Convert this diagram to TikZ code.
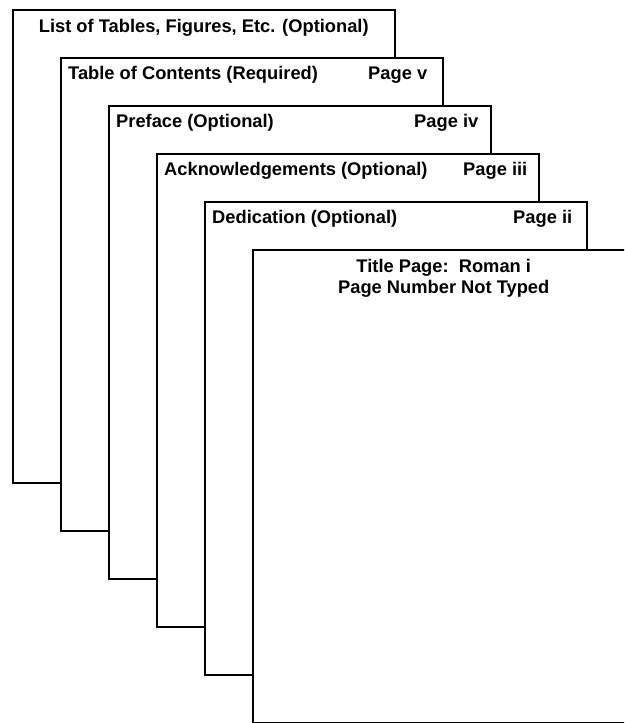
\documentclass[tikz,border=0pt]{standalone}
\usepackage{fontspec}
\setmainfont{Liberation Sans}
\usepackage{tikz}
\usetikzlibrary{positioning}

\begin{document}
\begin{tikzpicture}[x=1pt,y=1pt,node distance=48pt and 48pt,
  pagebox/.style={draw,fill=white,line width=1.5pt,minimum width=382pt,minimum height=473pt,inner sep=0pt,anchor=north west},
  head/.style={font=\bfseries\fontsize{18.3}{21}\selectfont,inner sep=0pt,anchor=base west}]
  \useasboundingbox (0,0) rectangle (624,-723);
  \clip (0,0) rectangle (624,-723);

  \node [pagebox] (lot) at (12,-9) {};
  \node [pagebox, below right=of lot.north west] (toc) {};
  \node [pagebox, below right=of toc.north west] (pref) {};
  \node [pagebox, below right=of pref.north west] (ack) {};
  \node [pagebox, below right=of ack.north west] (ded) {};
  \node [pagebox, below right=of ded.north west] (title) {};

  %headings
  \node [head, anchor=base] (lotH) at ([yshift=-23pt]lot.north) {List of Tables, Figures, Etc. (Optional)};
  \node [head] (tocH) at ([shift={(8pt,-22pt)}]toc.north west) {Table of Contents (Required)};
  \node [head] (tocP) at ([shift={(308pt,-22pt)}]toc.north west) {Page v};
  \node [head] (prefH) at ([shift={(8pt,-22pt)}]pref.north west) {Preface (Optional)};
  \node [head] (prefP) at ([shift={(306pt,-22pt)}]pref.north west) {Page iv};
  \node [head] (ackH) at ([shift={(8pt,-22pt)}]ack.north west) {Acknowledgements (Optional)};
  \node [head] (ackP) at ([shift={(307pt,-22pt)}]ack.north west) {Page iii};
  \node [head] (dedH) at ([shift={(8pt,-22pt)}]ded.north west) {Dedication (Optional)};
  \node [head] (dedP) at ([shift={(309pt,-22pt)}]ded.north west) {Page ii};

  \node [head, anchor=base] (titleH) at ([yshift=-23pt]title.north) {Title Page:\ \ Roman i};
  \node [head, anchor=base] (titleN) at ([yshift=-21pt]titleH.base) {Page Number Not Typed};
\end{tikzpicture}
\end{document}
